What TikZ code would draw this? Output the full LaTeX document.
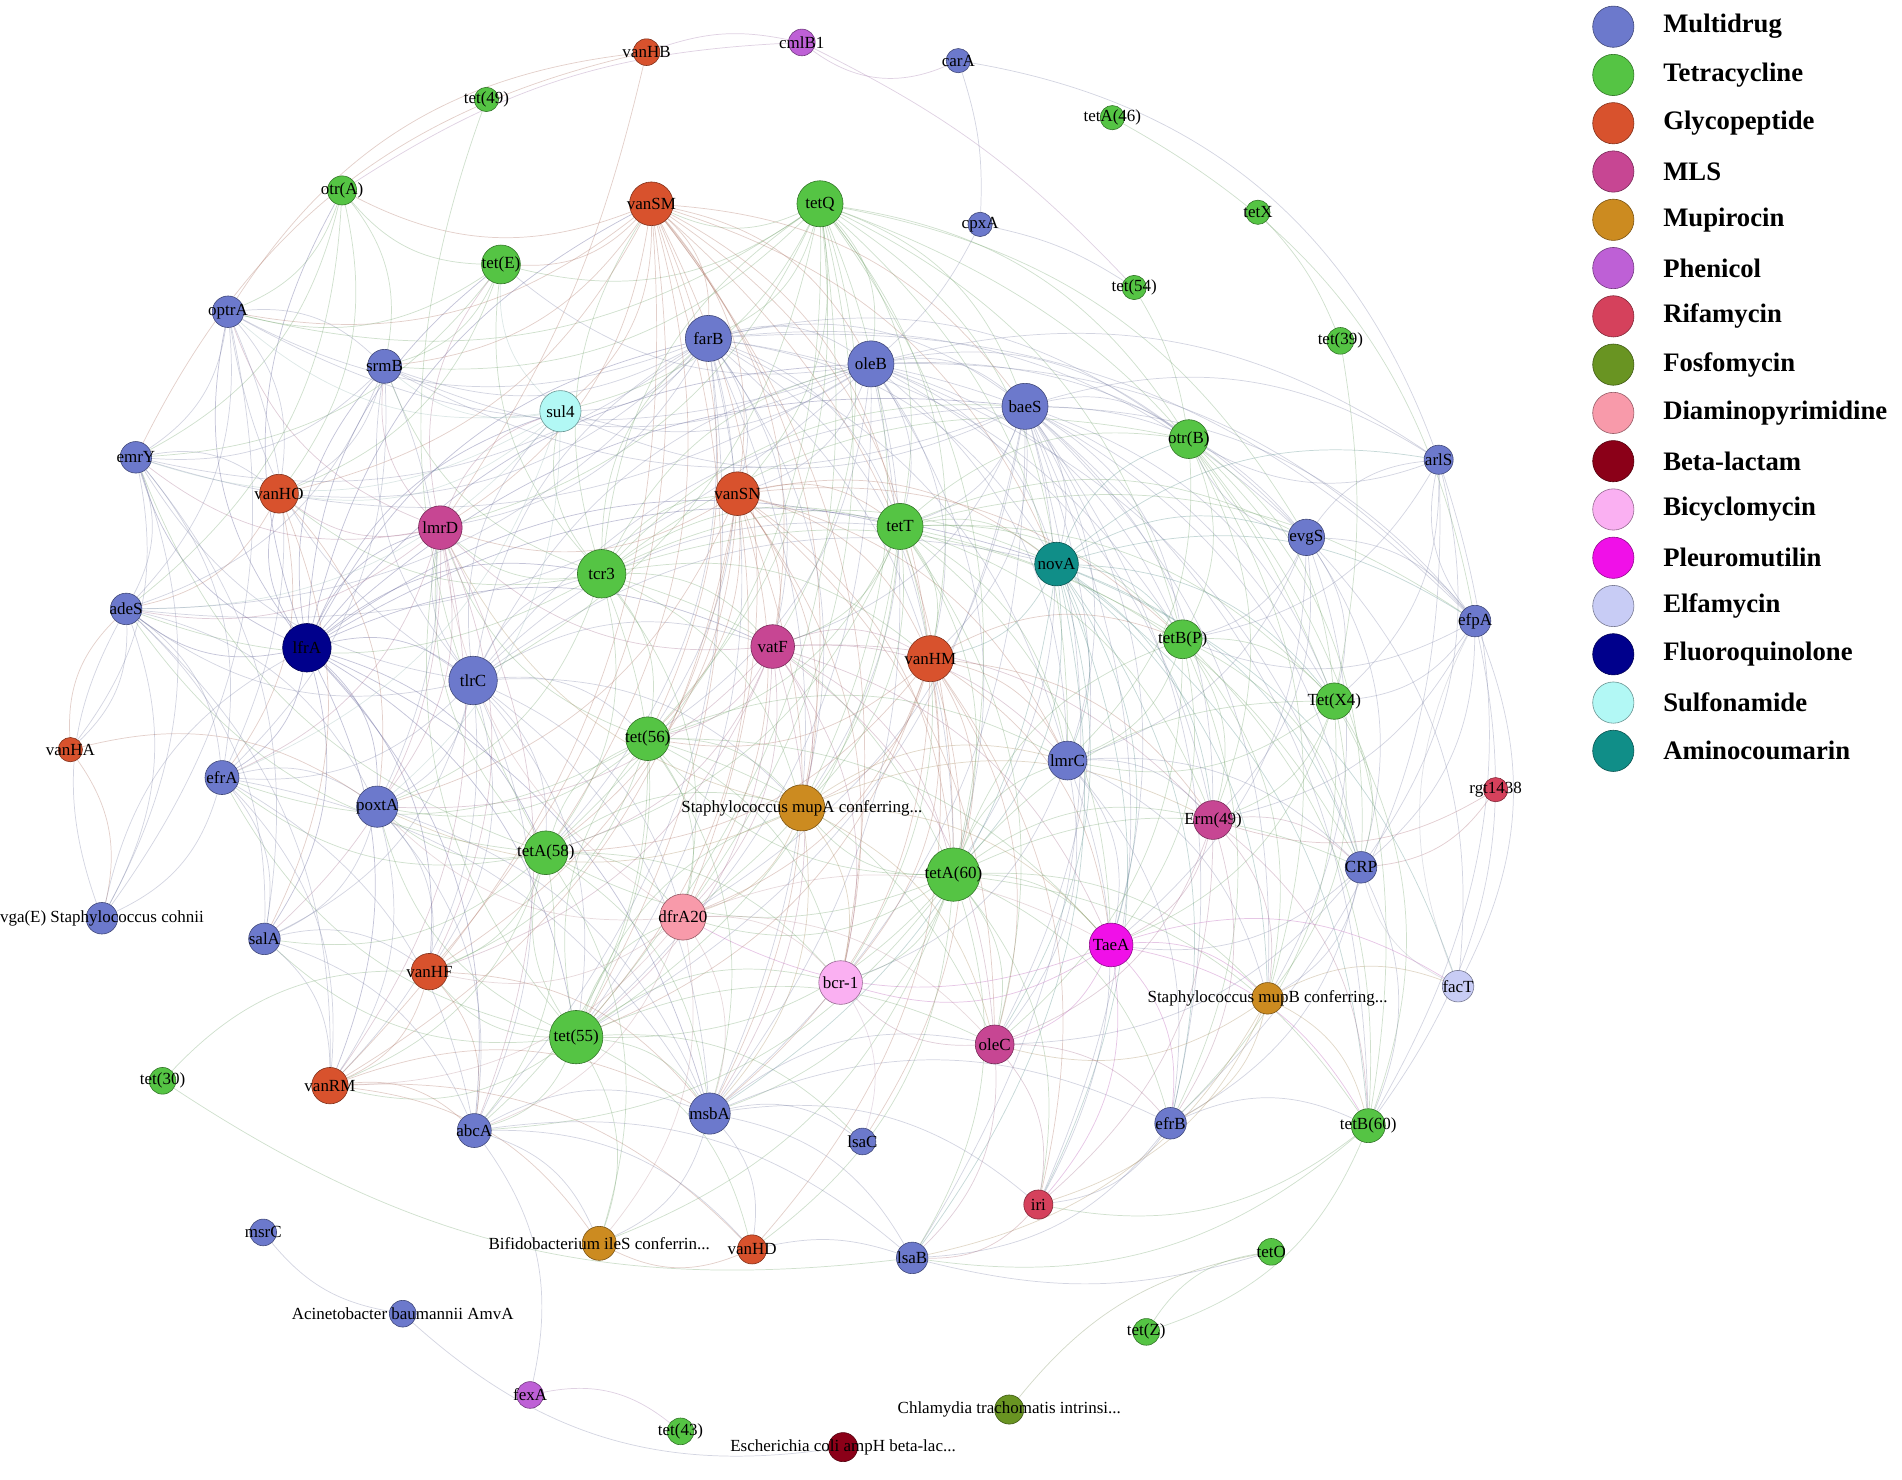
\documentclass[tikz,border=0pt]{standalone}
\usepackage{fontspec}
\setmainfont{Liberation Serif}
\pgfdeclarelayer{bg}\pgfsetlayers{bg,main}
\definecolor{multi}{RGB}{108,121,204}
\definecolor{tetra}{RGB}{85,196,68}
\definecolor{glyco}{RGB}{216,82,45}
\definecolor{mls}{RGB}{199,70,147}
\definecolor{mupi}{RGB}{204,139,32}
\definecolor{phen}{RGB}{190,96,214}
\definecolor{rifa}{RGB}{213,65,92}
\definecolor{fosf}{RGB}{105,148,34}
\definecolor{diam}{RGB}{248,154,170}
\definecolor{beta}{RGB}{139,0,24}
\definecolor{bicy}{RGB}{250,176,242}
\definecolor{pleu}{RGB}{240,16,232}
\definecolor{elfa}{RGB}{200,204,245}
\definecolor{fluo}{RGB}{0,0,140}
\definecolor{sulf}{RGB}{178,248,245}
\definecolor{amino}{RGB}{16,142,136}
\tikzset{
  gn/.style 2 args={circle,draw=#2!60!black,fill=#2,minimum size=#1,inner sep=0pt,line width=0.5pt},
  lbl/.style={font=\fontsize{14}{14}\selectfont,inner sep=0pt,text=black},
  lab/.style={label={[lbl]center:#1}},
  edge/.style={draw=#1!45!gray,draw opacity=0.32,line width=0.6pt},
  legc/.style={circle,draw=#1!60!black,fill=#1,minimum size=34pt,inner sep=0pt,line width=0.5pt},
  legt/.style={anchor=west,font=\fontsize{22}{22}\selectfont\bfseries,inner sep=0pt}
}
\newcommand\E[4][bend left=24]{\foreach \nb in {#4}{\draw[edge=#3,#1] (#2) to (\nb);}}
\begin{document}
\begin{tikzpicture}[x=1pt,y=-1pt]
\useasboundingbox (0,0) rectangle (1568,1220);
% nodes
\node[gn={22}{glyco},lab=vanHB] (vanHB) at (533,43) {};
\node[gn={22}{phen},lab=cmlB1] (cmlB) at (661,35) {};
\node[gn={20}{multi},lab=carA] (carA) at (790,50) {};
\node[gn={20}{tetra},lab=tet(49)] (t49) at (401,82) {};
\node[gn={20}{tetra},lab=tetA(46)] (tA46) at (917,97) {};
\node[gn={24}{tetra},lab=otr(A)] (otrA) at (282,157) {};
\node[gn={36}{glyco},lab=vanSM] (vanSM) at (537,168) {};
\node[gn={38}{tetra},lab=tetQ] (tQ) at (676,168) {};
\node[gn={20}{tetra},lab=tetX] (tX) at (1037,175) {};
\node[gn={20}{multi},lab=cpxA] (cpxA) at (808,185) {};
\node[gn={32}{tetra},lab=tet(E)] (tE) at (413,218) {};
\node[gn={20}{tetra},lab=tet(54)] (t54) at (935,237) {};
\node[gn={26}{multi},lab=optrA] (optrA) at (188,257) {};
\node[gn={38}{multi},lab=farB] (farB) at (584,279) {};
\node[gn={38}{multi},lab=oleB] (oleB) at (718,300) {};
\node[gn={22}{tetra},lab=tet(39)] (t39) at (1105,281) {};
\node[gn={28}{multi},lab=srmB] (srmB) at (317,302) {};
\node[gn={34}{sulf},lab=sul4] (sul4) at (462,339) {};
\node[gn={38}{multi},lab=baeS] (baeS) at (845,335) {};
\node[gn={32}{tetra},lab=otr(B)] (otrB) at (980,362) {};
\node[gn={26}{multi},lab=emrY] (emrY) at (112,377) {};
\node[gn={24}{multi},lab=arlS] (arlS) at (1186,379) {};
\node[gn={32}{glyco},lab=vanHO] (vanHO) at (230,407) {};
\node[gn={36}{glyco},lab=vanSN] (vanSN) at (608,407) {};
\node[gn={36}{mls},lab=lmrD] (lmrD) at (363,435) {};
\node[gn={38}{tetra},lab=tetT] (tT) at (742,434) {};
\node[gn={36}{amino},lab=novA] (novA) at (871,465) {};
\node[gn={30}{multi},lab=evgS] (evgS) at (1077,443) {};
\node[gn={40}{tetra},lab=tcr3] (tcr3) at (496,473) {};
\node[gn={26}{multi},lab=adeS] (adeS) at (104,502) {};
\node[gn={26}{multi},lab=efpA] (efpA) at (1216,512) {};
\node[gn={40}{fluo},lab=lfrA] (lfrA) at (253,534) {};
\node[gn={36}{mls},lab=vatF] (vatF) at (637,533) {};
\node[gn={32}{tetra},lab=tetB(P)] (tBP) at (975,527) {};
\node[gn={40}{multi},lab=tlrC] (tlrC) at (390,561) {};
\node[gn={38}{glyco},lab=vanHM] (vanHM) at (767,543) {};
\node[gn={30}{tetra},lab=Tet(X4)] (tX4) at (1100,578) {};
\node[gn={36}{tetra},lab=tet(56)] (t56) at (534,609) {};
\node[gn={20}{glyco},lab=vanHA] (vanHA) at (58,618) {};
\node[gn={28}{multi},lab=efrA] (efrA) at (183,641) {};
\node[gn={32}{multi},lab=lmrC] (lmrC) at (880,627) {};
\node[gn={20}{rifa},lab=rgt1438] (rgt) at (1233,651) {};
\node[gn={34}{multi},lab=poxtA] (poxtA) at (311,665) {};
\node[gn={38}{mupi},lab={Staphylococcus mupA conferring...}] (mupA) at (661,666) {};
\node[gn={32}{mls},lab=Erm(49)] (erm) at (1000,676) {};
\node[gn={36}{tetra},lab=tetA(58)] (tA58) at (450,703) {};
\node[gn={44}{tetra},lab=tetA(60)] (tA60) at (786,721) {};
\node[gn={26}{multi},lab=CRP] (CRP) at (1122,715) {};
\node[gn={38}{diam},lab=dfrA20] (dfrA) at (563,756) {};
\node[gn={36}{pleu},lab=TaeA] (TaeA) at (916,779) {};
\node[gn={26}{multi},lab={vga(E) Staphylococcus cohnii}] (vgaE) at (84,757) {};
\node[gn={26}{multi},lab=salA] (salA) at (218,774) {};
\node[gn={36}{bicy},lab=bcr-1] (bcr) at (693,810) {};
\node[gn={26}{mupi},lab={Staphylococcus mupB conferring...}] (mupB) at (1045,823) {};
\node[gn={26}{elfa},lab=facT] (facT) at (1202,813) {};
\node[gn={30}{glyco},lab=vanHF] (vanHF) at (354,801) {};
\node[gn={44}{tetra},lab=tet(55)] (t55) at (475,855) {};
\node[gn={32}{mls},lab=oleC] (oleC) at (820,861) {};
\node[gn={22}{tetra},lab=tet(30)] (t30) at (134,891) {};
\node[gn={30}{glyco},lab=vanRM] (vanRM) at (272,895) {};
\node[gn={34}{multi},lab=msbA] (msbA) at (585,918) {};
\node[gn={22}{multi},lab=lsaC] (lsaC) at (711,941) {};
\node[gn={26}{multi},lab=efrB] (efrB) at (965,926) {};
\node[gn={28}{tetra},lab=tetB(60)] (tB60) at (1128,928) {};
\node[gn={28}{multi},lab=abcA] (abcA) at (391,932) {};
\node[gn={24}{rifa},lab=iri] (iri) at (856,993) {};
\node[gn={28}{mupi},lab={Bifidobacterium ileS conferrin...}] (ileS) at (494,1025) {};
\node[gn={22}{multi},lab=msrC] (msrC) at (217,1016) {};
\node[gn={24}{glyco},lab=vanHD] (vanHD) at (620,1030) {};
\node[gn={22}{tetra},lab=tetO] (tO) at (1048,1032) {};
\node[gn={26}{multi},lab=lsaB] (lsaB) at (752,1037) {};
\node[gn={22}{multi},lab={Acinetobacter baumannii AmvA}] (acin) at (332,1083) {};
\node[gn={22}{tetra},lab=tet(Z)] (tZ) at (945,1098) {};
\node[gn={22}{phen},lab=fexA] (fexA) at (437,1150) {};
\node[gn={24}{fosf},lab={Chlamydia trachomatis intrinsi...}] (chlam) at (832,1162) {};
\node[gn={22}{tetra},lab=tet(43)] (t43) at (561,1180) {};
\node[gn={24}{beta},lab={Escherichia coli ampH beta-lac...}] (ampH) at (695,1193) {};
% edges
\begin{pgfonlayer}{bg}
\E{lfrA}{fluo}{adeS,emrY,optrA,srmB,vanHO,lmrD,tlrC,poxtA,efrA,salA,tcr3,sul4,farB,vanSM,tE,otrA,vanRM,vanHF,tA58,t55,abcA,msbA,vatF,novA,oleB,baeS,tT}
\E{tlrC}{multi}{lmrD,tcr3,farB,sul4,srmB,optrA,emrY,adeS,efrA,poxtA,tA58,t56,t55,vanHF,dfrA,msbA,vatF,tT,baeS,oleB,novA,mupA,abcA,vanRM,salA}
\E{tcr3}{tetra}{vanSM,tQ,farB,oleB,baeS,sul4,lmrD,tE,srmB,vanHO,adeS,t56,vatF,tT,vanSN,novA,tBP,otrB,tA58,t55,dfrA,mupA,tA60,vanHM,poxtA}
\E{tQ}{tetra}{vanSM,farB,oleB,baeS,tE,sul4,vanSN,tT,novA,tBP,otrB,evgS,tX4,vatF,vanHM,t56,tA58,t55,mupA,tA60,lmrC,dfrA,srmB,optrA,lmrD,tlrC}
\E{vanSM}{glyco}{farB,oleB,sul4,tE,srmB,vanHO,lmrD,vanSN,vatF,tT,t56,tA58,t55,dfrA,mupA,vanHM,tA60,bcr,vanHF,vanRM,optrA,otrA,baeS,novA}
\E{farB}{multi}{oleB,baeS,sul4,srmB,optrA,emrY,vanHO,lmrD,vanSN,tT,novA,otrB,evgS,tBP,vatF,vanHM,t56,tA58,t55,mupA,tA60,lmrC,msbA,abcA,adeS,efpA}
\E{oleB}{multi}{baeS,sul4,srmB,optrA,tE,vanSN,tT,novA,otrB,evgS,arlS,tBP,tX4,vanHM,lmrC,tA60,erm,CRP,t56,t55,mupA,msbA,adeS,emrY,efpA}
\E{baeS}{multi}{sul4,srmB,tT,novA,otrB,evgS,arlS,efpA,tBP,tX4,lmrC,erm,CRP,tA60,TaeA,mupB,efrB,tB60,vanHM,oleC,iri,t55,msbA,lsaB,dfrA,vatF}
\E{vanSN}{glyco}{lmrD,vatF,tT,novA,t56,tA58,mupA,vanHM,tA60,dfrA,bcr,t55,poxtA,vanHF,vanRM,lmrC,tBP,oleC,msbA}
\E{tT}{tetra}{novA,vatF,vanHM,t56,mupA,tA60,lmrC,tBP,tX4,evgS,otrB,erm,TaeA,dfrA,bcr,oleC,t55,tA58,efpA,CRP}
\E{novA}{amino}{tBP,otrB,evgS,arlS,efpA,tX4,lmrC,erm,CRP,TaeA,mupB,tA60,vanHM,oleC,efrB,tB60,iri,lsaB,msbA,facT}
\E{vatF}{mls}{vanHM,t56,mupA,tA60,dfrA,bcr,oleC,tA58,t55,lmrC,TaeA,erm,poxtA,lmrD,msbA,vanHF}
\E{vanHM}{glyco}{t56,mupA,tA60,lmrC,tBP,erm,TaeA,oleC,bcr,dfrA,iri,msbA,t55,tA58,vanHD,lsaC}
\E{tA60}{tetra}{mupA,lmrC,erm,TaeA,oleC,bcr,dfrA,tBP,tX4,CRP,mupB,efrB,tB60,iri,msbA,lsaB,t55,tA58,t56,vanHD,ileS,abcA}
\E{t55}{tetra}{tA58,t56,dfrA,mupA,bcr,msbA,abcA,vanRM,vanHF,salA,ileS,vanHD,poxtA,efrA,lmrD,oleC,lsaC}
\E{tA58}{tetra}{t56,poxtA,lmrD,efrA,salA,vanHF,vanRM,dfrA,mupA,bcr,msbA,abcA,ileS,adeS,emrY,t49}
\E{t56}{tetra}{poxtA,mupA,dfrA,bcr,msbA,lmrD,efrA,vanHF,oleC,TaeA,lmrC,abcA}
\E{mupA}{mupi}{dfrA,bcr,lmrC,erm,TaeA,oleC,msbA,poxtA,lmrD}
\E{dfrA}{diam}{bcr,msbA,abcA,vanHF,vanRM,poxtA,oleC,TaeA,lmrD,ileS}
\E{lmrD}{mls}{vanHO,srmB,sul4,poxtA,efrA,adeS,emrY,optrA,vanHF,vanRM,abcA,salA,tE}
\E{sul4}{sulf}{srmB,optrA,tE,emrY,vanHO,adeS,efrA,poxtA}
\E{tE}{tetra}{otrA,optrA,srmB,emrY,vanHO}
\E{otrA}{tetra}{optrA,emrY,adeS,vanHO,srmB}
\E{optrA}{multi}{emrY,adeS,srmB,vanHO,efrA,vgaE}
\E{srmB}{multi}{emrY,adeS,vanHO,efrA,poxtA}
\E{emrY}{multi}{adeS,vanHO,vanHA,vgaE,efrA,salA}
\E{vanHO}{glyco}{adeS,poxtA,efrA,salA}
\E{adeS}{multi}{efrA,poxtA,salA,vgaE,vanHA,vanRM}
\E{efrA}{multi}{poxtA,salA,vgaE,vanRM,abcA,msbA}
\E{poxtA}{multi}{salA,vanHF,vanRM,abcA,msbA}
\E{salA}{multi}{vanHF,vanRM,abcA}
\E{vanHF}{glyco}{vanRM,abcA,msbA}
\E{vanRM}{glyco}{abcA,ileS,vanHD,msbA}
\E{abcA}{multi}{msbA,ileS,vanHD,fexA,lsaB}
\E{msbA}{multi}{ileS,vanHD,lsaC,lsaB,oleC,iri,efrB}
\E{evgS}{multi}{arlS,efpA,otrB,tBP,tX4,erm,CRP,lmrC,TaeA,mupB,facT}
\E{efpA}{multi}{arlS,tBP,tX4,CRP,facT,erm,tB60}
\E{arlS}{multi}{tBP,tX4,CRP,otrB,efrB,tB60}
\E{otrB}{tetra}{tBP,tX4,erm,CRP,lmrC,mupB,tB60}
\E{tBP}{tetra}{tX4,lmrC,erm,CRP,TaeA,mupB,efrB,tB60,oleC}
\E{tX4}{tetra}{lmrC,erm,CRP,TaeA,mupB,tB60,efrB}
\E{lmrC}{multi}{erm,CRP,TaeA,oleC,mupB,efrB,iri,bcr}
\E{erm}{mls}{CRP,TaeA,mupB,oleC,efrB,tB60,iri}
\E{CRP}{multi}{TaeA,mupB,tB60,efrB,oleC}
\E{TaeA}{pleu}{mupB,oleC,iri,efrB,tB60,bcr,facT,dfrA}
\E{mupB}{mupi}{oleC,efrB,tB60,iri,lsaB,facT}
\E{oleC}{mls}{bcr,iri,efrB,lsaB}
\E{efrB}{multi}{tB60,iri,lsaB}
\E{tB60}{tetra}{lsaB,tZ,iri}
\E{iri}{rifa}{lsaB}
\E{bcr}{bicy}{lsaC}
\E{vanHD}{glyco}{ileS}
\E[bend right=25]{vanHB}{glyco}{emrY,optrA}
\E[bend left=10]{vanHB}{glyco}{lmrD}
\E[bend right=15]{cmlB}{phen}{otrA,vanHB}
\E[bend right=30]{cmlB}{phen}{carA}
\E[bend left=10]{cmlB}{phen}{t54}
\E[bend left=30]{carA}{multi}{arlS}
\E[bend left=10]{carA}{multi}{cpxA}
\E[bend left=10]{cpxA}{multi}{oleB,t54}
\E[bend left=25]{tA46}{tetra}{efpA}
\E[bend left=10]{tX}{tetra}{t39}
\E[bend left=10]{t39}{tetra}{tX4}
\E[bend left=10]{t54}{tetra}{otrB}
\E{vanHA}{glyco}{vgaE,adeS,poxtA}
\E{vgaE}{multi}{adeS,lfrA}
\E{rgt}{rifa}{erm,CRP}
\E{facT}{elfa}{efpA,CRP}
\E{t30}{tetra}{vanHF}
\E[bend right=20]{t30}{tetra}{lsaB}
\E[bend right=20]{msrC}{multi}{acin}
\E[bend right=25]{acin}{multi}{ampH}
\E[bend left=25]{fexA}{phen}{t43}
\E[bend left=20]{chlam}{fosf}{tO}
\E[bend right=15]{lsaB}{multi}{tO,vanHD}
\E{tZ}{tetra}{tO}
\end{pgfonlayer}
% legend
\foreach \c/\t [count=\i from 0] in {multi/Multidrug,tetra/Tetracycline,glyco/Glycopeptide,mls/MLS,mupi/Mupirocin,phen/Phenicol,rifa/Rifamycin,fosf/Fosfomycin,diam/Diaminopyrimidine,beta/Beta-lactam,bicy/Bicyclomycin,pleu/Pleuromutilin,elfa/Elfamycin,fluo/Fluoroquinolone,sulf/Sulfonamide,amino/Aminocoumarin}{
  \node[legc=\c] (lc\i) at (1330,{22+39.8*\i}) {};
  \node[legt] (lt\i) at (1371,{22+39.8*\i}) {\t};
}
\end{tikzpicture}
\end{document}
